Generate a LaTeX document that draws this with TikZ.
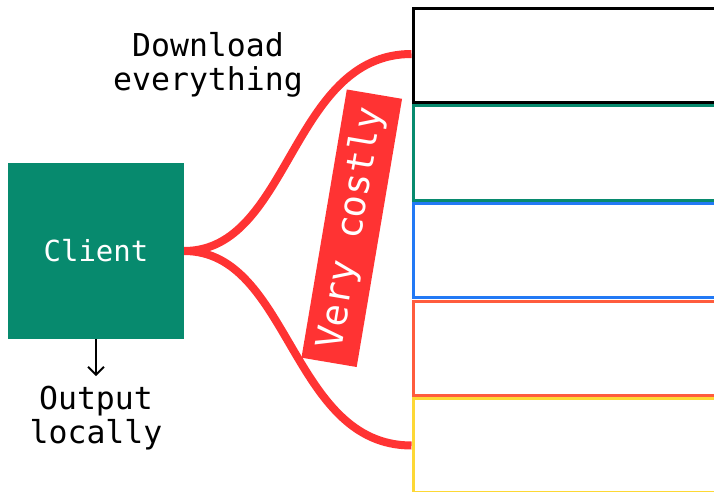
\documentclass[tikz,border=0pt]{standalone}
\usepackage{fontspec}
\setmonofont{DejaVu Sans Mono}
\usetikzlibrary{arrows.meta}

\definecolor{teal}{HTML}{078A6E}
\definecolor{costred}{HTML}{FF3333}
\definecolor{shardblue}{HTML}{2279F5}
\definecolor{shardorange}{HTML}{FF5C3D}
\definecolor{shardyellow}{HTML}{FDD835}

\tikzset{
  label text/.style={font=\ttfamily\fontsize{31.5}{34.5}\selectfont, align=center, inner sep=0pt},
  shard/.style={draw=#1, line width=3pt, minimum width=330pt, minimum height=94pt,
    anchor=north west, inner sep=0pt, fill=white},
  costline/.style={draw=costred, line width=8pt},
}

\begin{document}
\begin{tikzpicture}[x=1pt, y=-1pt]
\useasboundingbox (0,0) rectangle (714,492);
\clip (0,0) rectangle (714,492);

% stacked data shards on the right
\node[shard=black]        (s1) at (411.5,7)     {};
\node[shard=teal]         (s2) at (411.5,104.5) {};
\node[shard=shardblue]    (s3) at (411.5,202)   {};
\node[shard=shardorange]  (s4) at (411.5,299.5) {};
\node[shard=shardyellow]  (s5) at (411.5,397)   {};

% the client
\node[fill=teal, minimum size=176pt, inner sep=0pt, text=white,
      font=\ttfamily\fontsize{29}{30}\selectfont] (client) at (96,251) {Client};

% transfer paths from the client to the first and last shard
\draw[costline] (client.east) .. controls +(106,0) and +(-121,0) .. ([yshift=1.5pt]s1.west);
\draw[costline] (client.east) .. controls +(106,0) and +(-121,0) .. (s5.west);

% cost annotation
\node[fill=costred, rotate=80.4, minimum width=272pt, minimum height=56pt, inner sep=0pt,
      text=white, font=\ttfamily\fontsize{37}{38}\selectfont] (cost) at (351.75,228.25) {Very costly};

% captions
\node[label text] (dl) at (208,65) {Download\\everything};
\node[label text] (out) at (96,418) {Output\\locally};

\draw[line width=2pt, -{Straight Barb[length=8pt, width=16pt]}] (client.south) -- ++(0,37);
\end{tikzpicture}
\end{document}
